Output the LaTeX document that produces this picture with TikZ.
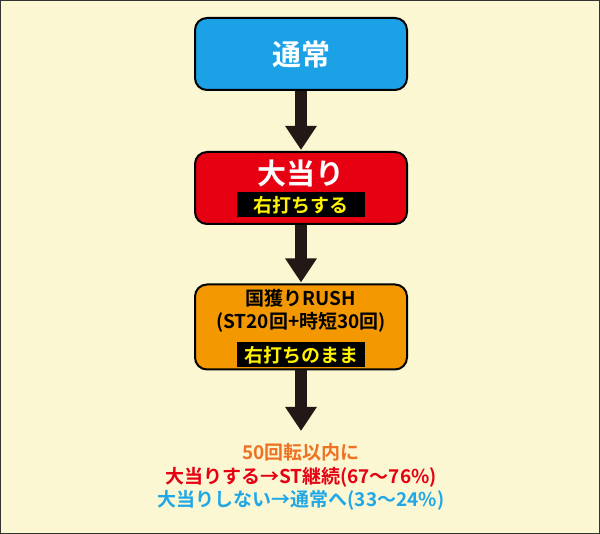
\documentclass[tikz,border=0pt]{standalone}
\usepackage{fontspec}
\setmainfont{Noto Sans CJK JP}[BoldFont={* Bold}]
\usetikzlibrary{arrows.meta,positioning}
\definecolor{bgyellow}{HTML}{FBF7D2}
\definecolor{stblue}{HTML}{1BA1E6}
\definecolor{hitred}{HTML}{E60012}
\definecolor{rushorange}{HTML}{F39800}
\definecolor{txtorange}{HTML}{EE7224}
\definecolor{txtblue}{HTML}{1FA7E8}
\definecolor{arrowdark}{HTML}{231815}
\tikzset{
  state/.style={draw=black, line width=2pt, rounded corners=12pt, minimum width=212pt, font=\bfseries},
  tag/.style={fill=black, text=yellow, font=\bfseries\fontsize{19}{22}\selectfont, minimum width=128pt, minimum height=25pt, inner sep=0pt},
  flow/.style={draw=arrowdark, line width=12pt, -{Triangle[width=30pt,length=24pt]}, shorten >=1pt}
}
\begin{document}
\begin{tikzpicture}[x=1pt,y=-1pt]
	\draw[fill=bgyellow, draw=black!80, line width=1pt] (0.5,0.5) rectangle (599.5,533.5);
	\node[state, fill=stblue, text=white, minimum height=72pt, font=\bfseries\fontsize{29}{32}\selectfont] (normal) at (301,54) {通常};
	\node[state, fill=hitred, minimum height=72pt] (hit) at (301,188) {};
	\node[text=white, font=\bfseries\fontsize{29}{32}\selectfont] (hitlabel) at (301,173) {大当り};
	\node[tag] (hittag) at (301,205) {右打ちする};
	\node[state, fill=rushorange, minimum height=85pt] (rush) at (301,327) {};
	\node[font=\bfseries\fontsize{19}{23}\selectfont, align=center] (rushlabel) at (301,311) {国獲りRUSH\\(ST20回+時短30回)};
	\node[tag] (rushtag) at (301,355) {右打ちのまま};
	\node[font=\bfseries\fontsize{19}{23.5}\selectfont, align=center] (result) at (301,477)
		{\textcolor{txtorange}{50回転以内に}\\
		 \textcolor{hitred}{大当りする→ST継続(67～76\%)}\\
		 \textcolor{txtblue}{大当りしない→通常へ(33～24\%)}};
	\draw[flow] (normal) -- (hit);
	\draw[flow] (hit) -- (rush);
	\draw[flow] (rush.south) -- (301,432);
	\useasboundingbox (0,0) rectangle (600,534);
\end{tikzpicture}
\end{document}
